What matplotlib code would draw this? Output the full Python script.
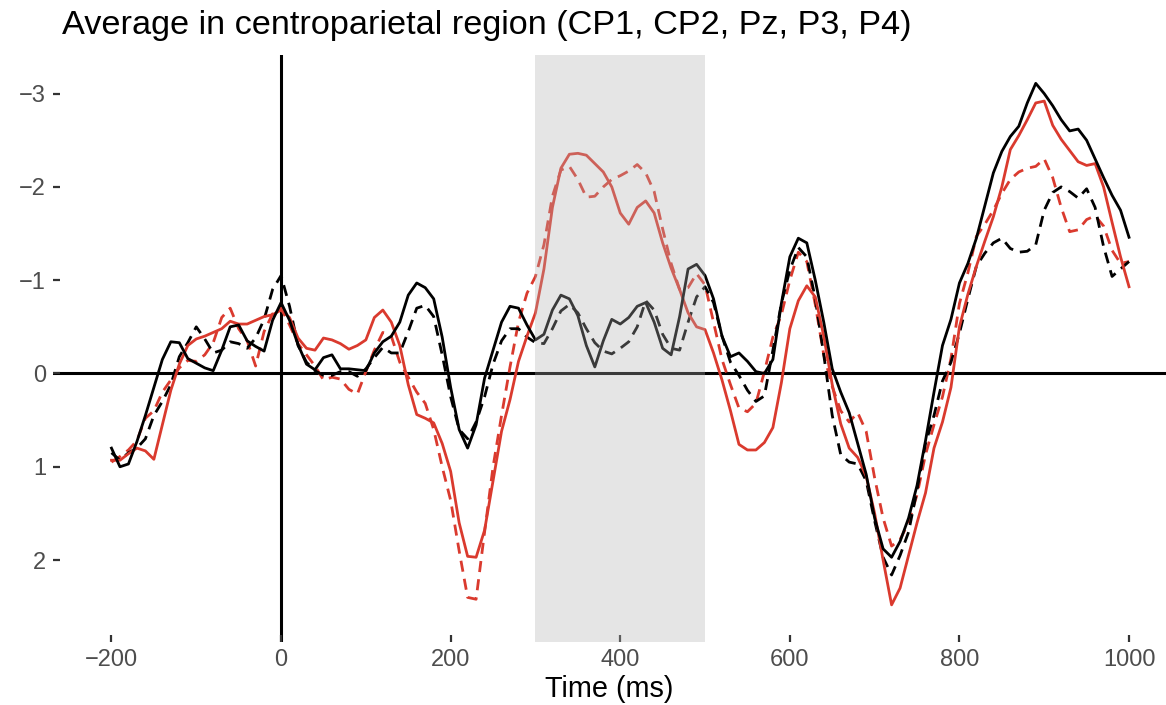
import numpy as np
import matplotlib
matplotlib.use("Agg")
import matplotlib.pyplot as plt

plt.rcParams["font.family"] = ["Liberation Sans", "DejaVu Sans"]

# time axis (ms), one sample every 10 ms
times = np.arange(-200, 1001, 10)

# amplitudes (uV)
black_solid = [
    0.80, 1.0, 0.97, 0.73, 0.45, 0.15, -0.15, -0.34, -0.33, -0.16,
    -0.11, -0.06, -0.03, -0.25, -0.5, -0.52, -0.35, -0.29, -0.24, -0.57,
    -0.76, -0.57, -0.31, -0.1, -0.04, -0.17, -0.2, -0.05, -0.05, -0.04,
    -0.03, -0.22, -0.34, -0.4, -0.55, -0.84, -0.97, -0.92, -0.8, -0.39,
    0.15, 0.6, 0.8, 0.55, 0.05, -0.25, -0.55, -0.72, -0.7, -0.52,
    -0.36, -0.42, -0.68, -0.84, -0.8, -0.62, -0.3, -0.07, -0.35, -0.58,
    -0.53, -0.6, -0.72, -0.76, -0.55, -0.27, -0.2, -0.61, -1.12, -1.17,
    -1.05, -0.8, -0.4, -0.18, -0.22, -0.13, -0.02, 0.0, -0.15, -0.75,
    -1.25, -1.45, -1.4, -1.0, -0.55, -0.05, 0.2, 0.42, 0.75, 1.08,
    1.55, 1.88, 1.97, 1.8, 1.55, 1.2, 0.72, 0.2, -0.3, -0.58,
    -0.97, -1.18, -1.45, -1.8, -2.15, -2.38, -2.54, -2.65, -2.9, -3.11,
    -3.0, -2.87, -2.72, -2.6, -2.62, -2.5, -2.3, -2.1, -1.91, -1.75,
    -1.46,
]
black_dashed = [
    0.85, 0.93, 0.85, 0.8, 0.7, 0.45, 0.3, 0.12, -0.18, -0.33,
    -0.5, -0.37, -0.22, -0.25, -0.34, -0.32, -0.27, -0.38, -0.58, -0.9,
    -1.05, -0.72, -0.3, -0.12, -0.03, 0.02, 0.02, -0.02, -0.02, 0.03,
    -0.05, -0.17, -0.28, -0.22, -0.22, -0.45, -0.7, -0.73, -0.61, -0.2,
    0.25, 0.6, 0.7, 0.52, 0.25, -0.1, -0.35, -0.48, -0.48, -0.39,
    -0.33, -0.32, -0.48, -0.67, -0.74, -0.65, -0.48, -0.33, -0.24, -0.21,
    -0.27, -0.34, -0.5, -0.78, -0.68, -0.42, -0.27, -0.25, -0.55, -0.82,
    -0.93, -0.76, -0.4, -0.12, 0.02, 0.18, 0.3, 0.24, -0.25, -0.75,
    -1.11, -1.35, -1.25, -0.8, -0.2, 0.45, 0.87, 0.95, 0.97, 1.15,
    1.58, 1.97, 2.16, 1.95, 1.7, 1.25, 0.75, 0.45, 0.08, -0.12,
    -0.43, -0.8, -1.15, -1.29, -1.4, -1.45, -1.34, -1.3, -1.31, -1.38,
    -1.75, -1.94, -2.0, -1.95, -1.88, -1.98, -1.78, -1.36, -1.04, -1.12,
    -1.2,
]
red_solid = [
    0.93, 0.93, 0.86, 0.8, 0.83, 0.92, 0.55, 0.18, -0.1, -0.3,
    -0.37, -0.4, -0.44, -0.48, -0.56, -0.53, -0.53, -0.57, -0.61, -0.63,
    -0.68, -0.6, -0.38, -0.27, -0.25, -0.38, -0.36, -0.32, -0.26, -0.3,
    -0.36, -0.6, -0.68, -0.55, -0.3, 0.12, 0.44, 0.48, 0.53, 0.75,
    1.05, 1.6, 1.96, 1.97, 1.68, 1.15, 0.62, 0.28, -0.13, -0.4,
    -0.65, -1.12, -1.78, -2.2, -2.35, -2.36, -2.34, -2.25, -2.16, -2.0,
    -1.72, -1.6, -1.78, -1.85, -1.72, -1.4, -1.13, -0.9, -0.65, -0.5,
    -0.47, -0.22, 0.07, 0.4, 0.76, 0.82, 0.82, 0.74, 0.58, 0.1,
    -0.48, -0.78, -0.94, -0.82, -0.4, 0.12, 0.54, 0.8, 0.9, 1.1,
    1.5, 2.0, 2.48, 2.3, 1.95, 1.6, 1.28, 0.8, 0.52, 0.15,
    -0.5, -0.85, -1.15, -1.42, -1.68, -2.0, -2.4, -2.55, -2.72, -2.9,
    -2.92, -2.66, -2.51, -2.39, -2.27, -2.23, -2.25, -2.0, -1.62, -1.25,
    -0.93,
]
red_dashed = [
    0.95, 0.89, 0.82, 0.72, 0.48, 0.4, 0.2, 0.07, -0.06, -0.14,
    -0.13, -0.2, -0.33, -0.6, -0.7, -0.48, -0.35, -0.08, -0.45, -0.64,
    -0.7, -0.52, -0.32, -0.2, -0.08, 0.07, 0.04, 0.06, 0.17, 0.22,
    -0.02, -0.25, -0.44, -0.4, -0.12, 0.04, 0.2, 0.32, 0.6, 1.0,
    1.36, 1.9, 2.4, 2.42, 1.7, 1.0, 0.45, -0.07, -0.55, -0.86,
    -1.04, -1.38, -1.9, -2.18, -2.22, -2.08, -1.89, -1.9, -2.0, -2.08,
    -2.12, -2.17, -2.24, -2.15, -1.95, -1.55, -1.18, -0.9, -0.92, -1.07,
    -0.95, -0.55, -0.15, 0.12, 0.37, 0.41, 0.32, -0.02, -0.39, -0.63,
    -1.0, -1.3, -1.2, -0.74, -0.2, 0.14, 0.4, 0.52, 0.42, 0.62,
    1.12, 1.55, 1.85, 1.78, 1.6, 1.3, 0.87, 0.55, 0.25, -0.16,
    -0.75, -1.08, -1.47, -1.6, -1.75, -1.93, -2.08, -2.16, -2.2, -2.22,
    -2.3, -2.1, -1.78, -1.52, -1.54, -1.65, -1.69, -1.58, -1.32, -1.18,
    -1.2,
]

window = (300, 500)
x_ticks = [-200, 0, 200, 400, 600, 800, 1000]
y_ticks = [-3, -2, -1, 0, 1, 2]

RED = "#DA3A2E"

fig = plt.figure(figsize=(11.66, 7.05), dpi=100)
ax = fig.add_axes([0.0455, 0.0894, 0.9545, 0.8326])

ax.axhline(0, color="black", lw=2.2, zorder=1)
ax.axvline(0, color="black", lw=2.2, zorder=1)

dash = (0, (4, 2.6))
ax.plot(times, red_dashed, color=RED, lw=2.0, linestyle=dash, zorder=2)
ax.plot(times, black_dashed, color="black", lw=2.0, linestyle=dash, zorder=2)
ax.plot(times, red_solid, color=RED, lw=2.0, zorder=3)
ax.plot(times, black_solid, color="black", lw=2.0, zorder=3)

ax.axvspan(window[0], window[1], color=(0.70, 0.70, 0.70), alpha=0.33, lw=0, zorder=5)

ax.set_xlim(-268.9, 1043.6)
ax.set_ylim(2.878, -3.414)
ax.set_xticks(x_ticks)
ax.set_yticks(y_ticks)
ax.tick_params(direction="in", length=5, width=1.6, color="#333333",
               labelcolor="#4D4D4D", labelsize=17, pad=5)
for s in ax.spines.values():
    s.set_visible(False)

ax.set_xlabel("Time (ms)", fontsize=20.8, labelpad=3)
fig.text(62 / 1166, 1 - 34 / 705, "Average in centroparietal region (CP1, CP2, Pz, P3, P4)",
         fontsize=24.7, ha="left", va="baseline")

fig.savefig("out.png", dpi=100)
